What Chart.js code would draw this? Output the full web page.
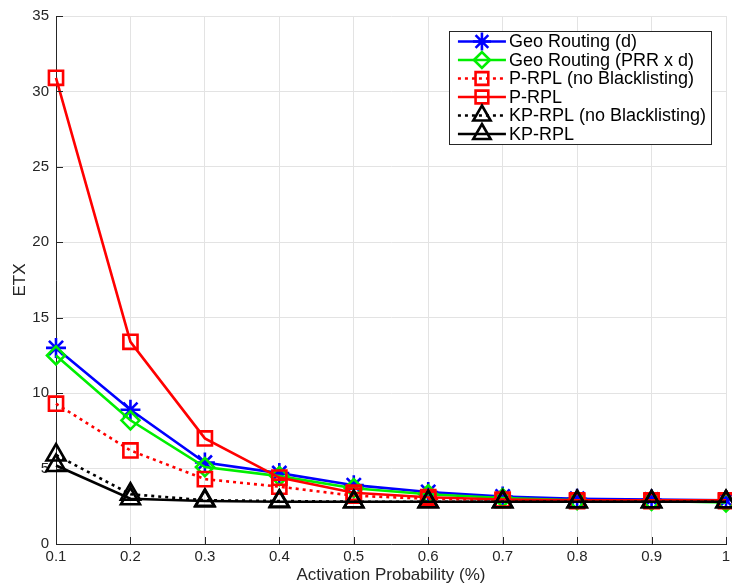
<!DOCTYPE html>
<html>
<head>
<meta charset="utf-8">
<script src="https://cdn.jsdelivr.net/npm/chart.js@4.4.0/dist/chart.umd.min.js"></script>
<style>
html, body { margin: 0; padding: 0; background: #fff; }
#wrap { width: 732px; height: 588px; }
</style>
</head>
<body>
<div id="wrap"><canvas id="etxChart" width="732" height="588"></canvas></div>
<script>
// values
const activation = [0.1, 0.2, 0.3, 0.4, 0.5, 0.6, 0.7, 0.8, 0.9, 1.0];
const xTickLabels = ['0.1', '0.2', '0.3', '0.4', '0.5', '0.6', '0.7', '0.8', '0.9', '1'];
const yTicks = [0, 5, 10, 15, 20, 25, 30, 35];

const geoD     = [13.0, 8.9, 5.4, 4.7, 3.9, 3.45, 3.15, 3.0, 2.95, 2.9];
const geoPRR   = [12.5, 8.2, 5.1, 4.5, 3.7, 3.3, 3.05, 2.9, 2.85, 2.75];
const pNoBL    = [9.3, 6.2, 4.3, 3.8, 3.2, 3.0, 2.9, 2.85, 2.85, 2.85];
const pRPL     = [30.9, 13.4, 7.0, 4.4, 3.4, 3.1, 2.95, 2.9, 2.9, 2.9];
const kpNoBL   = [5.9, 3.3, 2.9, 2.85, 2.8, 2.8, 2.8, 2.8, 2.8, 2.8];
const kpRPL    = [5.2, 3.0, 2.85, 2.8, 2.8, 2.8, 2.8, 2.8, 2.8, 2.8];

const axisColor = '#262626';
const fontFamily = '"Liberation Sans", Arial, Helvetica, sans-serif';

// markers may spill over the plot edge like in matlab, so don't reserve room for them
Chart.LineController.prototype.getMaxOverflow = function() { return 0; };

function series(label, values, color, dash, marker, radius, order) {
    return {
        label: label,
        data: values.map((v, i) => ({ x: activation[i], y: v })),
        borderColor: color,
        backgroundColor: 'rgba(0,0,0,0)',
        borderWidth: 2.6,
        borderDash: dash,
        borderCapStyle: 'butt',
        pointStyle: marker,
        pointRadius: radius,
        pointBorderColor: color,
        pointBackgroundColor: 'rgba(0,0,0,0)',
        pointBorderWidth: 2.6,
        tension: 0,
        clip: false,
        order: order
    };
}

const datasets = [
    series('Geo Routing (d)', geoD, '#0000ff', [], 'star', 10, 6),
    series('Geo Routing (PRR x d)', geoPRR, '#00ee00', [], 'rectRot', 9, 5),
    series('P-RPL (no Blacklisting)', pNoBL, '#ff0000', [3, 4], 'rect', 10, 4),
    series('P-RPL', pRPL, '#ff0000', [], 'rect', 10, 3),
    series('KP-RPL (no Blacklisting)', kpNoBL, '#000000', [3, 4], 'triangle', 11, 2),
    series('KP-RPL', kpRPL, '#000000', [], 'triangle', 11, 1)
];

// inward tick marks like the original figure
const innerTicks = {
    id: 'innerTicks',
    afterDatasetsDraw(chart) {
        const ctx = chart.ctx;
        const xs = chart.scales.x, ys = chart.scales.y;
        const len = 7;
        ctx.save();
        ctx.strokeStyle = axisColor;
        ctx.lineWidth = 1;
        ctx.beginPath();
        xs.ticks.forEach(t => {
            const px = Math.round(xs.getPixelForValue(t.value)) + 0.5;
            ctx.moveTo(px, ys.bottom);
            ctx.lineTo(px, ys.bottom - len);
        });
        ys.ticks.forEach(t => {
            const py = Math.round(ys.getPixelForValue(t.value)) + 0.5;
            ctx.moveTo(xs.left, py);
            ctx.lineTo(xs.left + len, py);
        });
        ctx.stroke();
        ctx.restore();
    }
};

// boxed legend with line sample + marker
const boxLegend = {
    id: 'boxLegend',
    afterDraw(chart) {
        const ctx = chart.ctx;
        const area = chart.chartArea;
        const rowH = 18.5;
        const sampleW = 48;
        ctx.save();
        ctx.font = '18px ' + fontFamily;
        let maxW = 0;
        datasets.forEach(d => { maxW = Math.max(maxW, ctx.measureText(d.label).width); });
        const boxW = 9 + sampleW + 3 + maxW + 5;
        const boxH = rowH * datasets.length + 2;
        const boxR = area.right - 15;
        const boxL = boxR - boxW;
        const boxT = area.top + 15;

        ctx.fillStyle = '#ffffff';
        ctx.fillRect(boxL, boxT, boxW, boxH);
        ctx.strokeStyle = axisColor;
        ctx.lineWidth = 1;
        ctx.strokeRect(Math.round(boxL) + 0.5, Math.round(boxT) + 0.5, Math.round(boxW), Math.round(boxH));

        datasets.forEach((d, i) => {
            const cy = boxT + 10.5 + i * rowH;
            const x0 = boxL + 9, x1 = x0 + sampleW;
            ctx.strokeStyle = d.borderColor;
            ctx.lineWidth = d.borderWidth;
            ctx.setLineDash(d.borderDash);
            ctx.beginPath();
            ctx.moveTo(x0, cy);
            ctx.lineTo(x1, cy);
            ctx.stroke();
            ctx.setLineDash([]);
            ctx.fillStyle = 'rgba(0,0,0,0)';
            Chart.helpers.drawPoint(ctx, {
                pointStyle: d.pointStyle,
                radius: d.pointRadius - 1,
                rotation: 0,
                borderWidth: d.pointBorderWidth
            }, (x0 + x1) / 2, cy);
            ctx.fillStyle = '#000000';
            ctx.textBaseline = 'middle';
            ctx.textAlign = 'left';
            ctx.fillText(d.label, x1 + 3, cy + 1);
        });
        ctx.restore();
    }
};

const ctx = document.getElementById('etxChart').getContext('2d');
const etxChart = new Chart(ctx, {
    type: 'line',
    data: { datasets: datasets },
    options: {
        responsive: false,
        animation: false,
        devicePixelRatio: 1,
        layout: { padding: { top: 16, right: 6, left: 0, bottom: 0 } },
        plugins: {
            legend: { display: false },
            tooltip: { enabled: false }
        },
        scales: {
            x: {
                type: 'linear',
                min: 0.1,
                max: 1,
                afterBuildTicks: (scale) => { scale.ticks = activation.map(v => ({ value: v })); },
                afterFit: (scale) => {
                    scale.height = 44;
                    scale.paddingLeft = 0;
                    scale.paddingRight = 0;
                },
                ticks: {
                    callback: (v, i) => xTickLabels[i],
                    color: axisColor,
                    font: { family: fontFamily, size: 15 },
                    padding: 4,
                    maxRotation: 0,
                    autoSkip: false
                },
                grid: { color: '#e3e3e3', lineWidth: 1, drawTicks: false },
                border: { color: axisColor, width: 1 },
                title: {
                    display: true,
                    text: 'Activation Probability (%)',
                    color: axisColor,
                    font: { family: fontFamily, size: 17 },
                    padding: { top: 0, bottom: 2 }
                }
            },
            y: {
                min: 0,
                max: 35,
                afterBuildTicks: (scale) => { scale.ticks = yTicks.map(v => ({ value: v })); },
                afterFit: (scale) => {
                    scale.width = 56;
                    scale.paddingTop = 0;
                    scale.paddingBottom = 0;
                },
                ticks: {
                    color: axisColor,
                    font: { family: fontFamily, size: 15 },
                    padding: 7
                },
                grid: { color: '#e3e3e3', lineWidth: 1, drawTicks: false },
                border: { color: axisColor, width: 1 },
                title: {
                    display: true,
                    text: 'ETX',
                    color: axisColor,
                    font: { family: fontFamily, size: 17 },
                    padding: { top: 10, bottom: 0 }
                }
            }
        }
    },
    plugins: [innerTicks, boxLegend]
});
</script>
</body>
</html>
